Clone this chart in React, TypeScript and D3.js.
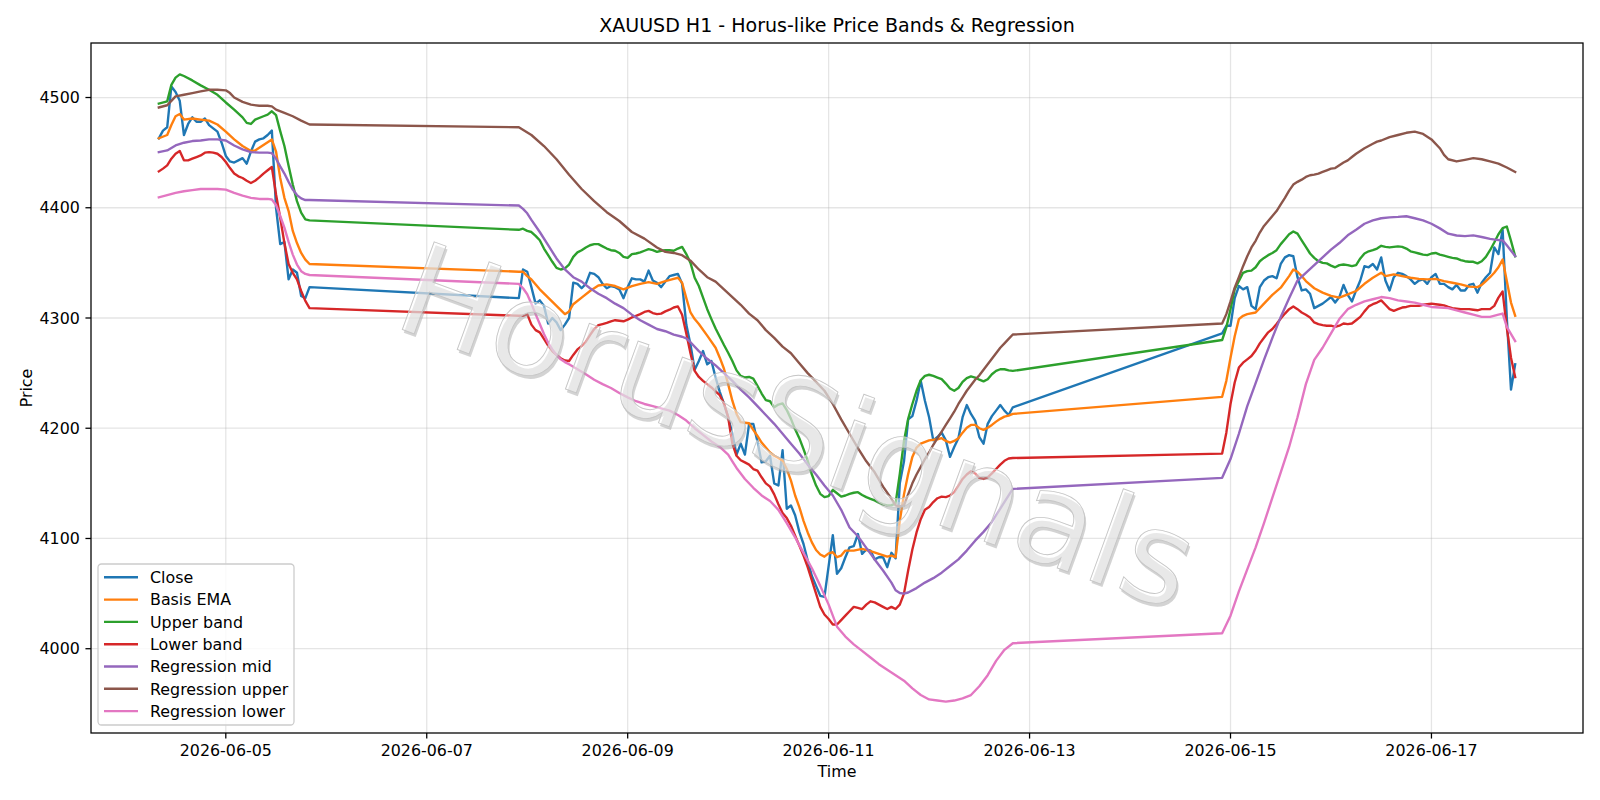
import React from "react";
import * as d3 from "d3";

// Trading sessions of the hourly bars: [first bar (UTC), number of bars]
const SESSIONS: [string, number][] = [
  ["2026-06-04T08:00:00Z", 37],
  ["2026-06-07T22:00:00Z", 119],
  ["2026-06-14T22:00:00Z", 71],
];

// Hourly close prices, one per bar
const CLOSE: number[] = [
  4463, 4470, 4473, 4510, 4505, 4497, 4466, 4476, 4482, 4478, 4478, 4481, 4475, 4472, 4469, 4459,
  4447, 4442, 4441, 4443, 4445, 4440, 4451, 4460, 4462, 4463, 4466, 4470, 4400, 4367, 4369, 4335,
  4344, 4341, 4320, 4318, 4328,
  4318, 4344, 4342, 4328, 4313, 4316, 4311, 4295, 4300, 4296,
  4289, 4294, 4300, 4332, 4331, 4327, 4331, 4341, 4340, 4337,
  4331, 4327, 4329, 4328, 4326, 4318, 4328, 4336, 4335, 4335,
  4333, 4343, 4334, 4332, 4328, 4333, 4338, 4339, 4340, 4331,
  4294, 4276, 4253, 4261, 4270, 4258, 4261, 4246, 4233, 4222,
  4210, 4195, 4176, 4186, 4176, 4204, 4204, 4188, 4169, 4170,
  4175, 4150, 4148, 4180, 4127, 4130, 4121, 4106, 4095, 4080,
  4066, 4057, 4048, 4047, 4075, 4103, 4068, 4073, 4083, 4092,
  4093, 4104, 4086, 4090, 4089, 4081, 4083, 4083, 4074, 4087,
  4082, 4150, 4170, 4208, 4211, 4225, 4243, 4225, 4210, 4189,
  4192, 4196, 4189, 4174, 4183, 4191, 4210, 4221, 4213, 4207,
  4192, 4186, 4204, 4211, 4216, 4221, 4216, 4212, 4219,
  4286, 4293, 4293, 4318, 4329, 4326, 4328, 4311, 4308, 4328,
  4334, 4337, 4338, 4336, 4349, 4355, 4357, 4356, 4337, 4325,
  4326, 4322, 4309, 4311, 4313, 4316, 4319, 4314, 4319, 4330,
  4321, 4315, 4325, 4334, 4347, 4346, 4349, 4344, 4355, 4334,
  4325, 4337, 4341, 4340, 4338, 4335, 4331, 4334, 4335, 4331,
  4337, 4340, 4331, 4331, 4328, 4326, 4330, 4325, 4325, 4330,
  4331, 4323, 4332, 4337, 4341, 4364, 4358, 4380, 4300, 4235, 4258,
];

// Smooth series as [bar index, price]
const BASIS_EMA: [number, number][] = [
  [0, 4463], [2, 4466], [3, 4475], [4, 4483], [5, 4485], [6, 4480], [8, 4481], [10, 4480], [12, 4479],
  [14, 4475.5], [16, 4469], [18, 4462], [20, 4456], [22, 4451.5], [23, 4452], [25, 4457], [27, 4462],
  [28, 4451], [29, 4427], [30, 4409], [31, 4397], [32, 4379], [33, 4368], [34, 4359], [35, 4353], [36, 4349],
  [37, 4342], [38, 4342], [39, 4338], [40, 4335], [42, 4326], [44, 4318.5], [46, 4311], [48, 4303.5],
  [49, 4306], [50, 4312.5], [52, 4318.5], [54, 4324.5], [56, 4329.5], [58, 4330.5], [60, 4329], [62, 4326],
  [64, 4329], [66, 4331], [68, 4332.5], [70, 4331], [72, 4333.5], [74, 4335.5], [75, 4336.5], [76, 4332],
  [77, 4318], [78, 4305], [79, 4299], [80, 4294.5], [82, 4284], [84, 4273], [85, 4264], [86, 4254],
  [87, 4240], [88, 4225], [89, 4213], [90, 4205.5], [91, 4205], [92, 4204.5], [93, 4198.5], [94, 4193],
  [95, 4187], [96, 4182.5], [97, 4178], [98, 4175], [99, 4173], [100, 4170.5], [101, 4163], [102, 4152.5],
  [103, 4139], [104, 4128.5], [105, 4116], [106, 4105.5], [107, 4096.5], [108, 4089.5], [109, 4085.5],
  [110, 4083.5], [111, 4086.5], [112, 4087.5], [113, 4083], [114, 4084.5], [115, 4089], [117, 4089],
  [119, 4090.5], [121, 4088.5], [123, 4086], [125, 4083.5], [126, 4084.5], [127, 4083], [128, 4116],
  [129, 4140], [130, 4158.5], [131, 4174], [132, 4182.5], [133, 4186], [135, 4189], [137, 4190], [138, 4191],
  [139, 4188.5], [140, 4187], [141, 4188.5], [142, 4191], [143, 4196], [144, 4200.5], [145, 4203],
  [146, 4203], [147, 4200], [148, 4198.5], [149, 4200.5], [150, 4203], [151, 4206], [152, 4208.5],
  [153, 4210.5], [154, 4211.5], [155, 4213],
  [156, 4228.5], [157, 4243], [158, 4264], [159, 4283.5], [160, 4299], [161, 4302], [162, 4303.5],
  [164, 4305], [166, 4313], [168, 4321], [170, 4327.5], [172, 4338], [173, 4344], [174, 4342], [175, 4338],
  [176, 4333.5], [178, 4327], [180, 4323], [182, 4320], [184, 4318.5], [186, 4321.5], [188, 4324.5],
  [190, 4331], [192, 4336.5], [194, 4341], [195, 4338], [197, 4339.5], [199, 4338], [201, 4336.5],
  [203, 4335.5], [205, 4335], [207, 4335.5], [209, 4333.5], [211, 4332], [213, 4330.5], [215, 4328.5],
  [217, 4328], [218, 4330], [219, 4333.5], [220, 4337], [221, 4341], [222, 4346], [223, 4353],
  [224, 4333.5], [225, 4314], [226, 4302],
];

const UPPER_BAND: [number, number][] = [
  [0, 4494.5], [2, 4496.5], [3, 4511.5], [4, 4518], [5, 4521], [6, 4519.5], [8, 4515.5], [10, 4511],
  [12, 4507], [14, 4502.5], [16, 4495.5], [18, 4489], [20, 4482], [21, 4477], [22, 4476], [23, 4480],
  [25, 4483], [26, 4484.5], [27, 4487.5], [28, 4484], [29, 4469.5], [30, 4456], [31, 4438], [32, 4421],
  [33, 4406], [34, 4395.5], [35, 4389.5], [36, 4388.5],
  [37, 4380], [38, 4381], [39, 4379], [40, 4378], [41, 4374.5], [42, 4370.5], [43, 4363], [44, 4357],
  [45, 4351], [46, 4345.5], [47, 4344], [48, 4345], [49, 4348.5], [50, 4355.5], [51, 4359.5], [52, 4361.5],
  [53, 4364], [54, 4366], [55, 4367], [56, 4367], [57, 4365], [58, 4363], [59, 4361.5], [60, 4361],
  [61, 4359], [62, 4355.5], [63, 4354.5], [64, 4358], [65, 4358.5], [66, 4359.5], [67, 4361], [68, 4362.5],
  [69, 4361.5], [70, 4360], [71, 4361], [72, 4361.5], [73, 4361.5], [74, 4361], [75, 4363], [76, 4364.5],
  [77, 4358], [78, 4350], [79, 4336.5], [80, 4329], [81, 4318.5], [82, 4308], [83, 4299], [84, 4290.5],
  [85, 4283], [86, 4275.5], [87, 4268.5], [88, 4261], [89, 4252.5], [90, 4247.5], [91, 4246], [92, 4246.5],
  [93, 4245], [94, 4238.5], [95, 4231.5], [96, 4225.5], [97, 4224.5], [98, 4219], [99, 4221.5],
  [100, 4222.5], [101, 4216.5], [102, 4208.5], [103, 4199], [104, 4191], [105, 4181], [106, 4170.5],
  [107, 4158], [108, 4148], [109, 4140.5], [110, 4137.5], [111, 4138.5], [112, 4144], [113, 4141],
  [114, 4138], [115, 4139], [116, 4140.5], [117, 4141.5], [118, 4142], [119, 4139.5], [120, 4137.5],
  [121, 4136], [122, 4134.5], [123, 4132.5], [124, 4131], [125, 4130], [126, 4130], [127, 4132],
  [128, 4158.5], [129, 4188.5], [130, 4208.5], [131, 4222], [132, 4234], [133, 4243.5], [134, 4247.5],
  [135, 4248.5], [136, 4247.5], [137, 4246], [138, 4244.5], [139, 4240.5], [140, 4236], [141, 4234],
  [142, 4236.5], [143, 4242], [144, 4245.5], [145, 4247], [146, 4246], [147, 4244], [148, 4242.5],
  [149, 4244.5], [150, 4249], [151, 4252], [152, 4253.5], [153, 4253.5], [154, 4252.5], [155, 4252],
  [156, 4280], [157, 4291.5], [158, 4308], [159, 4326], [160, 4333.5], [161, 4341], [162, 4342.5],
  [163, 4343], [164, 4346], [165, 4351.5], [166, 4354.5], [167, 4357], [168, 4359], [169, 4361.5],
  [170, 4367], [171, 4371.5], [172, 4376], [173, 4378.5], [174, 4376.5], [175, 4370.5], [176, 4364.5],
  [177, 4358.5], [178, 4354.5], [179, 4351.5], [180, 4350], [181, 4349.5], [182, 4347.5], [183, 4346],
  [184, 4348], [185, 4348.5], [186, 4348], [187, 4347], [188, 4348], [189, 4354], [190, 4358.5],
  [191, 4360.5], [192, 4361.5], [193, 4363], [194, 4365.5], [195, 4364.5], [196, 4364], [197, 4364.5],
  [198, 4365], [199, 4364.5], [200, 4363], [201, 4360.5], [202, 4359.5], [203, 4358.5], [204, 4357.5],
  [205, 4357], [206, 4358.5], [207, 4359], [208, 4357.5], [209, 4356.5], [210, 4355.5], [211, 4354.5],
  [212, 4354], [213, 4352.5], [214, 4351.5], [215, 4351], [216, 4351], [217, 4349.5], [218, 4351.5],
  [219, 4355.5], [220, 4361.5], [221, 4368.5], [222, 4376], [223, 4381.5], [224, 4383], [225, 4370],
  [226, 4356],
];

const LOWER_BAND: [number, number][] = [
  [0, 4433], [1, 4435.5], [2, 4438.5], [3, 4444.5], [4, 4449], [5, 4451.5], [6, 4443], [7, 4443],
  [8, 4444.5], [9, 4446], [10, 4447.5], [11, 4450], [12, 4450.5], [13, 4450], [14, 4449], [15, 4446],
  [16, 4441.5], [17, 4436], [18, 4431], [19, 4428.5], [20, 4427], [21, 4424.5], [22, 4422.5], [23, 4424.5],
  [24, 4427.5], [25, 4431], [26, 4434], [27, 4437], [28, 4412], [29, 4391], [30, 4368], [31, 4349],
  [32, 4341], [33, 4335], [34, 4324.5], [35, 4315.5], [36, 4309],
  [37, 4302], [38, 4302], [39, 4303.5], [40, 4294], [41, 4289], [42, 4287], [43, 4281], [44, 4275],
  [45, 4270], [46, 4266.5], [47, 4263.5], [48, 4261.5], [49, 4261], [50, 4266.5], [51, 4271.5],
  [52, 4274.5], [53, 4278.5], [54, 4284.5], [55, 4290], [56, 4293.5], [57, 4294.5], [58, 4295.5],
  [59, 4297], [60, 4298], [61, 4297.5], [62, 4297], [63, 4298.5], [64, 4300.5], [65, 4302], [66, 4303.5],
  [67, 4305.5], [68, 4306.5], [69, 4304.5], [70, 4303.5], [71, 4304], [72, 4306], [73, 4307.5],
  [74, 4309.5], [75, 4310.5], [76, 4303], [77, 4286], [78, 4268], [79, 4252], [80, 4246.5], [81, 4243],
  [82, 4240], [83, 4237], [84, 4233.5], [85, 4230], [86, 4222.5], [87, 4210], [88, 4186], [89, 4175],
  [90, 4171], [91, 4169], [92, 4167], [93, 4163], [94, 4161.5], [95, 4155.5], [96, 4150], [97, 4147],
  [98, 4140], [99, 4131], [100, 4123], [101, 4118.5], [102, 4111.5], [103, 4102.5], [104, 4093.5],
  [105, 4084.5], [106, 4074], [107, 4062], [108, 4050], [109, 4038], [110, 4031], [111, 4027],
  [112, 4022], [113, 4022], [114, 4026], [115, 4030], [116, 4034], [117, 4038], [118, 4037], [119, 4036],
  [120, 4040], [121, 4043], [122, 4042], [123, 4040], [124, 4038], [125, 4036], [126, 4038], [127, 4036],
  [128, 4040], [129, 4050], [130, 4071], [131, 4090], [132, 4105.5], [133, 4117.5], [134, 4126],
  [135, 4128.5], [136, 4133], [137, 4136.5], [138, 4138], [139, 4137.5], [140, 4139], [141, 4142],
  [142, 4148], [143, 4154], [144, 4158], [145, 4161], [146, 4159], [147, 4155], [148, 4154], [149, 4155.5],
  [150, 4159], [151, 4163], [152, 4167], [153, 4170.5], [154, 4172.5], [155, 4173],
  [156, 4177], [157, 4196], [158, 4222], [159, 4241.5], [160, 4255], [161, 4259.5], [162, 4262.5],
  [163, 4265.5], [164, 4270.5], [165, 4277], [166, 4282], [167, 4287], [168, 4290], [169, 4294.5],
  [170, 4299.5], [171, 4304], [172, 4308], [173, 4310.5], [174, 4308], [175, 4305], [176, 4303],
  [177, 4300.5], [178, 4296], [179, 4294.5], [180, 4293.5], [181, 4293], [182, 4293], [183, 4292],
  [184, 4293], [185, 4295], [186, 4294.5], [187, 4295], [188, 4298], [189, 4301], [190, 4306],
  [191, 4310.5], [192, 4312.5], [193, 4314], [194, 4316], [195, 4312], [196, 4308], [197, 4306.5],
  [198, 4308], [199, 4309.5], [200, 4310], [201, 4311], [202, 4311], [203, 4311], [204, 4312],
  [205, 4312.5], [206, 4313], [207, 4312.5], [208, 4312], [209, 4311.5], [210, 4310], [211, 4309],
  [212, 4308.5], [213, 4308], [214, 4308], [215, 4308], [216, 4307.5], [217, 4307], [218, 4308],
  [219, 4308], [220, 4308], [221, 4311], [222, 4318.5], [223, 4324], [224, 4291], [225, 4264], [226, 4246.5],
];

const REG_MID: [number, number][] = [
  [0, 4450.5], [2, 4452], [4, 4456.5], [6, 4459], [8, 4460.5], [10, 4461], [12, 4462], [14, 4462],
  [16, 4461], [18, 4456.5], [20, 4453], [22, 4450.5], [24, 4450], [26, 4450], [27, 4449.5], [28, 4444.5],
  [29, 4437.5], [30, 4431], [31, 4423.5], [32, 4416.5], [33, 4411.5], [34, 4408.5], [35, 4407], [36, 4407],
  [37, 4402], [38, 4399], [39, 4395], [40, 4389], [42, 4378], [44, 4366], [46, 4354], [48, 4344],
  [50, 4337], [52, 4333], [54, 4327], [56, 4322], [58, 4318], [60, 4313], [62, 4309], [64, 4303],
  [66, 4298], [68, 4294], [70, 4290], [72, 4288], [74, 4285], [76, 4283], [77, 4281.5], [78, 4278],
  [80, 4270], [82, 4263], [84, 4257], [86, 4250], [88, 4243], [90, 4235], [92, 4228], [94, 4220],
  [96, 4212], [98, 4204], [100, 4195], [102, 4186], [104, 4177], [106, 4167], [108, 4158], [110, 4148],
  [112, 4139], [114, 4126], [116, 4110], [118, 4102], [120, 4091.5], [122, 4081], [124, 4071], [126, 4060],
  [127, 4053], [128, 4050.5], [129, 4050], [130, 4051], [132, 4055], [134, 4060], [136, 4064], [138, 4069],
  [140, 4075], [142, 4081], [144, 4089], [146, 4098], [148, 4106], [150, 4115], [152, 4127], [154, 4139],
  [155, 4145],
  [156, 4155], [158, 4172], [160, 4195], [162, 4220], [164, 4241], [166, 4262], [168, 4282], [170, 4301],
  [172, 4318], [174, 4334], [176, 4341], [178, 4348], [180, 4355], [182, 4362], [184, 4368], [186, 4375],
  [188, 4380], [190, 4385.5], [192, 4388.5], [194, 4390.5], [196, 4391.3], [198, 4391.7], [200, 4392.3],
  [202, 4390.5], [204, 4388.5], [206, 4385.5], [208, 4381.3], [210, 4376.5], [212, 4374.8], [214, 4374.3],
  [216, 4374.9], [218, 4373.5], [220, 4371.8], [222, 4370.7], [223, 4370.4], [224, 4366], [226, 4356.2],
];

const REG_UPPER: [number, number][] = [
  [0, 4491], [2, 4493], [3, 4497], [4, 4501], [6, 4502.5], [8, 4504], [10, 4505.5], [12, 4507],
  [14, 4507], [16, 4506.5], [17, 4504], [18, 4500], [20, 4496], [22, 4493.5], [24, 4492.5], [26, 4492.5],
  [27, 4492], [28, 4489], [30, 4486], [32, 4483], [34, 4479], [36, 4475.5],
  [37, 4473], [40, 4466], [43, 4456], [46, 4444], [49, 4430], [52, 4417], [55, 4406], [58, 4396],
  [61, 4388], [64, 4378], [67, 4372], [70, 4364], [72, 4360], [74, 4359], [76, 4357], [78, 4352],
  [80, 4344], [82, 4337], [84, 4333], [86, 4326], [88, 4319], [90, 4312], [92, 4304], [94, 4298],
  [96, 4289], [98, 4282], [100, 4274], [102, 4268], [104, 4259], [106, 4250], [108, 4242], [110, 4234],
  [112, 4222], [114, 4208], [116, 4195], [118, 4182], [120, 4170], [122, 4160], [124, 4147], [126, 4136],
  [127, 4130], [128, 4129], [129, 4130], [130, 4140], [131, 4150], [132, 4158], [133, 4165], [134, 4172],
  [135, 4178], [136, 4185], [137, 4191], [138, 4197], [139, 4203], [140, 4209], [141, 4215], [142, 4222],
  [143, 4228], [144, 4234], [145, 4239], [146, 4244], [147, 4248], [148, 4253], [149, 4258], [150, 4263],
  [151, 4268], [152, 4273], [153, 4277], [154, 4281], [155, 4285],
  [156, 4295], [157, 4303.5], [158, 4315], [159, 4327.5], [160, 4337], [161, 4347], [162, 4356],
  [163, 4364], [164, 4370], [165, 4377.5], [166, 4383.5], [167, 4388], [168, 4392.5], [169, 4397],
  [170, 4403], [171, 4409], [172, 4415.5], [173, 4421], [174, 4423.5], [175, 4425.5], [176, 4428],
  [177, 4429.5], [178, 4430], [179, 4431], [180, 4432.5], [181, 4434], [182, 4435.5], [183, 4436],
  [184, 4438.5], [185, 4441], [186, 4443], [187, 4446], [188, 4449], [189, 4451.5], [190, 4454],
  [191, 4456], [192, 4458], [193, 4460], [194, 4461], [196, 4464], [198, 4466], [200, 4468], [202, 4469],
  [204, 4467], [206, 4462], [208, 4454], [209, 4448], [210, 4444], [212, 4442], [214, 4443.5], [216, 4445],
  [218, 4444], [220, 4442], [222, 4440], [224, 4436.5], [226, 4432.5],
];

const REG_LOWER: [number, number][] = [
  [0, 4409.5], [2, 4411.5], [4, 4413.5], [6, 4415], [8, 4416], [10, 4417], [12, 4417], [14, 4417],
  [16, 4416.5], [18, 4413.5], [20, 4411], [22, 4409], [24, 4408], [26, 4408], [27, 4407.5], [28, 4402.5],
  [29, 4392.5], [30, 4382], [31, 4369], [32, 4357.5], [33, 4348.5], [34, 4342.5], [35, 4340], [36, 4339],
  [37, 4331], [38, 4327], [39, 4321.5], [40, 4313], [41, 4303.5], [42, 4294.5], [43, 4285.5], [44, 4277.5],
  [45, 4271.5], [46, 4266.5], [47, 4262.5], [48, 4260], [49, 4258], [51, 4253.5], [53, 4249], [55, 4244],
  [57, 4240], [59, 4236.5], [61, 4232], [63, 4228], [65, 4224.5], [67, 4222], [69, 4220], [71, 4218],
  [73, 4216], [75, 4212], [77, 4207], [79, 4200], [81, 4194], [83, 4188], [85, 4183], [87, 4176],
  [88, 4170], [89, 4164], [90, 4159], [91, 4154], [93, 4146], [95, 4139], [97, 4134], [99, 4126],
  [101, 4114], [103, 4101], [105, 4087], [107, 4073], [109, 4057], [111, 4040], [113, 4020], [115, 4011],
  [117, 4004], [119, 3998], [121, 3992], [123, 3986], [125, 3981], [127, 3976], [129, 3971], [131, 3964],
  [133, 3958], [135, 3954], [137, 3953], [139, 3952], [141, 3953], [143, 3955], [145, 3958], [147, 3966],
  [149, 3976], [151, 3989], [153, 3999], [155, 4005],
  [156, 4014], [158, 4030], [160, 4052], [162, 4072], [164, 4092], [166, 4114], [168, 4137], [170, 4160],
  [172, 4183], [174, 4210], [176, 4240], [178, 4262], [180, 4273], [182, 4286], [184, 4299], [186, 4308],
  [188, 4312], [190, 4315], [192, 4317], [194, 4319], [196, 4318], [198, 4316], [200, 4315], [202, 4314],
  [204, 4312], [206, 4310], [208, 4309.5], [210, 4309], [212, 4307], [214, 4305], [216, 4303], [218, 4301],
  [220, 4301], [222, 4303], [223, 4304], [224, 4292], [226, 4279],
];

const SERIES_NAMES = [
  "Close", "Basis EMA", "Upper band", "Lower band", "Regression mid", "Regression upper", "Regression lower",
];
const SERIES_COLORS = ["#1f77b4", "#ff7f0e", "#2ca02c", "#d62728", "#9467bd", "#8c564b", "#e377c2"];

const X_TICKS = ["2026-06-05", "2026-06-07", "2026-06-09", "2026-06-11", "2026-06-13", "2026-06-15", "2026-06-17"];
const Y_TICKS = [4000, 4100, 4200, 4300, 4400, 4500];

const TITLE = "XAUUSD H1 - Horus-like Price Bands & Regression";
const WATERMARK = "HorusSignals";

const W = 1600;
const H = 800;
const PLOT = { left: 91, right: 1583, top: 43, bottom: 733 };
const FONT = "DejaVu Sans, Liberation Sans, sans-serif";
const PT = 114.3 / 72; // pixels per point

const barTimes: Date[] = SESSIONS.flatMap(([start, n]) => {
  const t0 = new Date(start).getTime();
  return d3.range(n).map((i) => new Date(t0 + i * 3600e3));
});

export default function App() {
  const closePts: [number, number][] = CLOSE.map((v, i) => [i, v]);
  const seriesPts = [closePts, BASIS_EMA, UPPER_BAND, LOWER_BAND, REG_MID, REG_UPPER, REG_LOWER];

  const t0 = barTimes[0].getTime();
  const t1 = barTimes[barTimes.length - 1].getTime();
  const tSpan = t1 - t0;
  const x = d3
    .scaleUtc()
    .domain([new Date(t0 - 0.05 * tSpan), new Date(t1 + 0.05 * tSpan)])
    .range([PLOT.left, PLOT.right]);

  const allVals = seriesPts.flatMap((s) => s.map((p) => p[1]));
  const [vMin, vMax] = d3.extent(allVals) as [number, number];
  const vPad = (vMax - vMin) * 0.05;
  const y = d3.scaleLinear().domain([vMin - vPad, vMax + vPad]).range([PLOT.bottom, PLOT.top]);

  const line = d3
    .line<[number, number]>()
    .x((d) => x(barTimes[d[0]]))
    .y((d) => y(d[1]));

  const xTickPos = X_TICKS.map((s) => x(new Date(s + "T00:00:00Z")));
  const cx = (PLOT.left + PLOT.right) / 2;
  const cy = (PLOT.top + PLOT.bottom) / 2;

  const tickFont = 10 * PT;
  const tickLen = 3.5 * PT;
  const lw = 1.5 * PT;
  const thin = 0.8 * PT;
  const legendX = 98;
  const legendY = 564;
  const rowH = 22.3;

  return (
    <svg
      width={W}
      height={H}
      viewBox={`0 0 ${W} ${H}`}
      style={{ position: "absolute", left: 0, top: 0, display: "block", background: "#fff" }}
      fontFamily={FONT}
    >
      <defs>
        <clipPath id="plot-clip">
          <rect x={PLOT.left} y={PLOT.top} width={PLOT.right - PLOT.left} height={PLOT.bottom - PLOT.top} />
        </clipPath>
      </defs>
      <rect x={0} y={0} width={W} height={H} fill="#fff" />

      {/* grid */}
      <g stroke="#b0b0b0" strokeOpacity={0.33} strokeWidth={thin}>
        {xTickPos.map((px, i) => (
          <line key={`gx${i}`} x1={px} x2={px} y1={PLOT.top} y2={PLOT.bottom} />
        ))}
        {Y_TICKS.map((v) => (
          <line key={`gy${v}`} x1={PLOT.left} x2={PLOT.right} y1={y(v)} y2={y(v)} />
        ))}
      </g>

      {/* price lines */}
      <g clipPath="url(#plot-clip)" fill="none" strokeWidth={lw} strokeLinejoin="round" strokeLinecap="square">
        {seriesPts.map((pts, i) => (
          <path key={SERIES_NAMES[i]} d={line(pts) || ""} stroke={SERIES_COLORS[i]} />
        ))}
      </g>

      {/* watermark */}
      <g transform={`translate(${798},${426}) rotate(20)`} fontSize={128} textAnchor="middle">
        <text x={2.5} y={2.5} dy="0.35em" fill="#a8a8a8" fillOpacity={0.5}>
          {WATERMARK}
        </text>
        <text x={0} y={0} dy="0.35em" fill="#ffffff" fillOpacity={0.48} stroke="#c6c6c6" strokeWidth={0.9}>
          {WATERMARK}
        </text>
      </g>

      {/* axes frame */}
      <rect
        x={PLOT.left}
        y={PLOT.top}
        width={PLOT.right - PLOT.left}
        height={PLOT.bottom - PLOT.top}
        fill="none"
        stroke="#000"
        strokeWidth={thin}
      />

      {/* x ticks */}
      <g fontSize={tickFont} textAnchor="middle" fill="#000">
        {xTickPos.map((px, i) => (
          <g key={`xt${i}`}>
            <line x1={px} x2={px} y1={PLOT.bottom} y2={PLOT.bottom + tickLen} stroke="#000" strokeWidth={thin} />
            <text x={px} y={756}>
              {X_TICKS[i]}
            </text>
          </g>
        ))}
      </g>

      {/* y ticks */}
      <g fontSize={tickFont} textAnchor="end" fill="#000">
        {Y_TICKS.map((v) => (
          <g key={`yt${v}`}>
            <line x1={PLOT.left - tickLen} x2={PLOT.left} y1={y(v)} y2={y(v)} stroke="#000" strokeWidth={thin} />
            <text x={PLOT.left - 2 * tickLen} y={y(v)} dy="0.36em">
              {v}
            </text>
          </g>
        ))}
      </g>

      {/* axis labels and title */}
      <text x={cx} y={777} fontSize={tickFont} textAnchor="middle">
        Time
      </text>
      <text transform={`translate(26.5,${cy}) rotate(-90)`} fontSize={tickFont} textAnchor="middle" dy="0.36em">
        Price
      </text>
      <text x={cx} y={32} fontSize={12 * PT} textAnchor="middle">
        {TITLE}
      </text>

      {/* legend */}
      <g>
        <rect
          x={legendX}
          y={legendY}
          width={196}
          height={161}
          rx={3.5}
          fill="#fff"
          fillOpacity={0.8}
          stroke="#cccccc"
          strokeWidth={thin}
        />
        {SERIES_NAMES.map((name, i) => {
          const ry = legendY + 13.3 + i * rowH;
          return (
            <g key={`lg${i}`}>
              <line x1={104} x2={138} y1={ry} y2={ry} stroke={SERIES_COLORS[i]} strokeWidth={lw} />
              <text x={150} y={ry} dy="0.36em" fontSize={tickFont}>
                {name}
              </text>
            </g>
          );
        })}
      </g>
    </svg>
  );
}
